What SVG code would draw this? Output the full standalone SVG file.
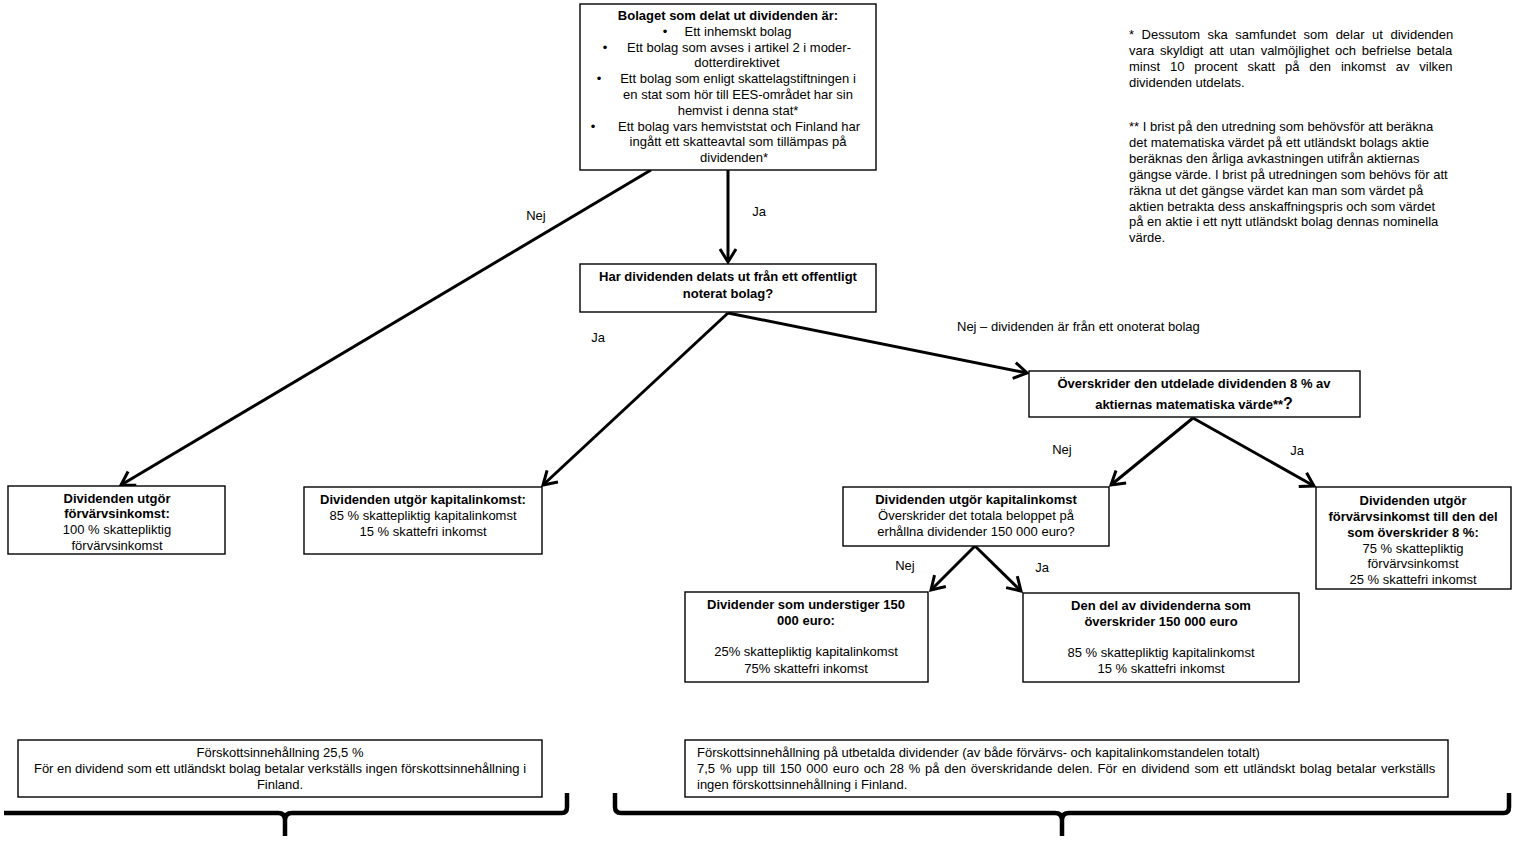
<svg xmlns="http://www.w3.org/2000/svg" width="1521" height="853" viewBox="0 0 1521 853">
<style>
text{font-family:"Liberation Sans",Arial,sans-serif;font-size:13px;fill:#000}
.b{font-weight:bold}
.c{text-anchor:middle}
.box{fill:#fff;stroke:#000;stroke-width:1.4}
.con{fill:none;stroke:#000;stroke-width:3}
.brace{fill:none;stroke:#000;stroke-width:4.5;stroke-linejoin:round}
</style>
<defs>
<marker id="ah" markerUnits="userSpaceOnUse" markerWidth="22" markerHeight="22" viewBox="0 0 22 22" refX="19" refY="11" orient="auto">
<path d="M6,3 L19,11 L6,19" fill="none" stroke="#000" stroke-width="3"/>
</marker>
</defs>
<rect width="1521" height="853" fill="#fff"/>

<g id="connectors">
<line class="con" x1="651" y1="170" x2="121" y2="485" marker-end="url(#ah)"/>
<line class="con" x1="728" y1="170" x2="728" y2="262" marker-end="url(#ah)"/>
<line class="con" x1="728" y1="313" x2="543" y2="485" marker-end="url(#ah)"/>
<line class="con" x1="728" y1="313" x2="1027" y2="373" marker-end="url(#ah)"/>
<line class="con" x1="1193" y1="418" x2="1111" y2="485" marker-end="url(#ah)"/>
<line class="con" x1="1193" y1="418" x2="1314" y2="486" marker-end="url(#ah)"/>
<line class="con" x1="975" y1="546" x2="931" y2="590" marker-end="url(#ah)"/>
<line class="con" x1="975" y1="546" x2="1021" y2="591" marker-end="url(#ah)"/>
<text x="536" y="220" class="c">Nej</text>
<text x="759" y="216" class="c">Ja</text>
<text x="598" y="342" class="c">Ja</text>
<text x="957" y="331">Nej – dividenden är från ett onoterat bolag</text>
<text x="1062" y="454" class="c">Nej</text>
<text x="1297" y="455" class="c">Ja</text>
<text x="905" y="570" class="c">Nej</text>
<text x="1042" y="572" class="c">Ja</text>
</g>

<g id="node-top">
<rect class="box" x="580" y="4" width="296" height="166"/>
<text x="728" y="20" class="c b">Bolaget som delat ut dividenden är:</text>
<text x="665" y="36" class="c">•</text>
<text x="738" y="36" class="c">Ett inhemskt bolag</text>
<text x="605" y="52" class="c">•</text>
<text x="739" y="52" class="c">Ett bolag som avses i artikel 2 i moder-</text>
<text x="737" y="67" class="c">dotterdirektivet</text>
<text x="599" y="83" class="c">•</text>
<text x="738" y="83" class="c">Ett bolag som enligt skattelagstiftningen i</text>
<text x="738" y="99" class="c">en stat som hör till EES-området har sin</text>
<text x="738" y="115" class="c">hemvist i denna stat*</text>
<text x="593" y="131" class="c">•</text>
<text x="739" y="131" class="c">Ett bolag vars hemviststat och Finland har</text>
<text x="738" y="146" class="c">ingått ett skatteavtal som tillämpas på</text>
<text x="734" y="162" class="c">dividenden*</text>
</g>

<g id="node-noterat">
<rect class="box" x="580" y="264" width="296" height="48"/>
<text x="728" y="281" class="c b">Har dividenden delats ut från ett offentligt</text>
<text x="728" y="298" class="c b">noterat bolag?</text>
</g>

<g id="node-8procent">
<rect class="box" x="1029" y="371" width="331" height="46"/>
<text x="1194" y="388" class="c b">Överskrider den utdelade dividenden 8 % av</text>
<text x="1194" y="409" class="c b">aktiernas matematiska värde**<tspan font-size="16">?</tspan></text>
</g>

<g id="node-forvarv100">
<rect class="box" x="8" y="486" width="217" height="68"/>
<text x="117" y="503" class="c b">Dividenden utgör</text>
<text x="117" y="518" class="c b">förvärvsinkomst:</text>
<text x="117" y="534" class="c">100 % skattepliktig</text>
<text x="117" y="550" class="c">förvärvsinkomst</text>
</g>

<g id="node-kapital85">
<rect class="box" x="304" y="487" width="238" height="67"/>
<text x="423" y="504" class="c b">Dividenden utgör kapitalinkomst:</text>
<text x="423" y="520" class="c">85 % skattepliktig kapitalinkomst</text>
<text x="423" y="536" class="c">15 % skattefri inkomst</text>
</g>

<g id="node-kapital150">
<rect class="box" x="843" y="487" width="266" height="59"/>
<text x="976" y="504" class="c b">Dividenden utgör kapitalinkomst</text>
<text x="976" y="520" class="c">Överskrider det totala beloppet på</text>
<text x="976" y="536" class="c">erhållna dividender 150 000 euro?</text>
</g>

<g id="node-forvarv75">
<rect class="box" x="1316" y="487" width="195" height="102"/>
<text x="1413" y="505" class="c b">Dividenden utgör</text>
<text x="1413" y="521" class="c b">förvärvsinkomst till den del</text>
<text x="1413" y="537" class="c b">som överskrider 8 %:</text>
<text x="1413" y="553" class="c">75 % skattepliktig</text>
<text x="1413" y="568" class="c">förvärvsinkomst</text>
<text x="1413" y="584" class="c">25 % skattefri inkomst</text>
</g>

<g id="node-under150">
<rect class="box" x="685" y="592" width="243" height="90"/>
<text x="806" y="609" class="c b">Dividender som understiger 150</text>
<text x="806" y="625" class="c b">000 euro:</text>
<text x="806" y="656" class="c">25% skattepliktig kapitalinkomst</text>
<text x="806" y="673" class="c">75% skattefri inkomst</text>
</g>

<g id="node-over150">
<rect class="box" x="1023" y="593" width="276" height="89"/>
<text x="1161" y="610" class="c b">Den del av dividenderna som</text>
<text x="1161" y="626" class="c b">överskrider 150 000 euro</text>
<text x="1161" y="657" class="c">85 % skattepliktig kapitalinkomst</text>
<text x="1161" y="673" class="c">15 % skattefri inkomst</text>
</g>

<g id="node-forskott-left">
<rect class="box" x="18" y="740" width="524" height="57"/>
<text x="280" y="757" class="c" font-size="12.6">Förskottsinnehållning 25,5 %</text>
<text x="280" y="773" class="c" font-size="12.6">För en dividend som ett utländskt bolag betalar verkställs ingen förskottsinnehållning i</text>
<text x="280" y="789" class="c" font-size="12.6">Finland.</text>
</g>

<g id="node-forskott-right">
<rect class="box" x="685" y="740" width="763" height="57"/>
<text x="697" y="757" font-size="12.8">Förskottsinnehållning på utbetalda dividender (av både förvärvs- och kapitalinkomstandelen totalt)</text>
<text x="697" y="773" font-size="12.8" word-spacing="1.2">7,5 % upp till 150 000 euro och 28 % på den överskridande delen. För en dividend som ett utländskt bolag betalar verkställs</text>
<text x="697" y="789" font-size="12.8">ingen förskottsinnehållning i Finland.</text>
</g>

<g id="braces">
<path class="brace" d="M4,813 L278,813 Q285,813 285,820 L285,836 M285,820 Q285,813 292,813 L562,813 Q567,813 567,807 L567,793"/>
<path class="brace" d="M615,793 L615,807 Q615,813 621,813 L1055,813 Q1062,813 1062,820 L1062,836 M1062,820 Q1062,813 1069,813 L1504,813 Q1509,813 1509,807 L1509,793"/>
</g>

<g id="notes">
<text x="1129" y="39" word-spacing="3.9">* Dessutom ska samfundet som delar ut dividenden</text>
<text x="1129" y="55" word-spacing="2.2">vara skyldigt att utan valmöjlighet och befrielse betala</text>
<text x="1129" y="71" word-spacing="6.3">minst 10 procent skatt på den inkomst av vilken</text>
<text x="1129" y="87">dividenden utdelats.</text>
<text x="1129" y="131">** I brist på den utredning som behövsför att beräkna</text>
<text x="1129" y="147">det matematiska värdet på ett utländskt bolags aktie</text>
<text x="1129" y="163">beräknas den årliga avkastningen utifrån aktiernas</text>
<text x="1129" y="179">gängse värde. I brist på utredningen som behövs för att</text>
<text x="1129" y="195">räkna ut det gängse värdet kan man som värdet på</text>
<text x="1129" y="211">aktien betrakta dess anskaffningspris och som värdet</text>
<text x="1129" y="226">på en aktie i ett nytt utländskt bolag dennas nominella</text>
<text x="1129" y="242">värde.</text>
</g>
</svg>
